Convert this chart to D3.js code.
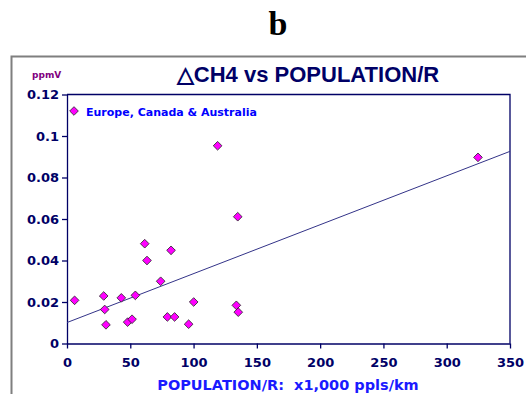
<!DOCTYPE html>
<html><head><meta charset="utf-8">
<script src="https://cdn.jsdelivr.net/npm/d3@7"></script>
<style>body{margin:0;background:#fff}svg{display:block}</style>
</head><body>
<svg id="c" width="526" height="394"></svg>
<script>
// Data (POPULATION/R in x1,000 ppl/km, ΔCH4 in ppmV)
const popR = [6, 29, 29.8, 30.8, 42.9, 47.9, 51.4, 54, 61.4, 63.2, 74, 79.3, 82.2, 85, 96.1, 100.1, 119, 133.8, 135.3, 134.9, 324.7];
const dCH4 = [0.0208, 0.0229, 0.0164, 0.0090, 0.0220, 0.0103, 0.0117, 0.0232, 0.0481, 0.0400, 0.0300, 0.0128, 0.0449, 0.0128, 0.0093, 0.0200, 0.0953, 0.0184, 0.0151, 0.0611, 0.0897];
const trendX = [0, 350];
const trendY = [0.0101, 0.0926];
const xTicks = [0, 50, 100, 150, 200, 250, 300, 350];
const yTicks = [0, 0.02, 0.04, 0.06, 0.08, 0.1, 0.12];
const yTickLabels = ["0", "0.02", "0.04", "0.06", "0.08", "0.1", "0.12"];
const seriesName = "Europe, Canada & Australia";

const svg = d3.select("#c");
const navy = "#000066";
const x = d3.scaleLinear().domain([0, 350]).range([67, 510]);
const y = d3.scaleLinear().domain([0, 0.12]).range([343.5, 94.5]);

// outer frame
svg.append("path").attr("d", "M11.5,394 L11.5,56.5 L526,56.5")
  .attr("fill", "none").attr("stroke", "#7f7f7f").attr("stroke-width", 2);

// "b"
svg.append("text").attr("x", 278).attr("y", 35).attr("text-anchor", "middle")
  .attr("font-family", "Liberation Serif, Times New Roman, serif").attr("font-weight", "bold")
  .attr("font-size", 34).attr("fill", "#000").text("b");

// title
svg.append("text").attr("x", 308).attr("y", 81.5).attr("text-anchor", "middle")
  .attr("font-family", "Liberation Sans, Arial, sans-serif").attr("font-weight", "bold")
  .attr("font-size", 22).attr("fill", navy).text("\u25B3CH4 vs POPULATION/R");

// ppmV
svg.append("text").attr("x", 32).attr("y", 77.5)
  .attr("font-family", "DejaVu Sans, sans-serif").attr("font-weight", "bold")
  .attr("font-size", 9).attr("fill", "#800080").text("ppmV");

// plot box (top and right)
svg.append("path").attr("d", `M${x(0)},${y(0.12)} L${x(350)},${y(0.12)} L${x(350)},${y(0)}`)
  .attr("fill", "none").attr("stroke", navy).attr("stroke-width", 1.3);

// axes
const xAxis = d3.axisBottom(x).tickValues(xTicks).tickSize(5).tickSizeOuter(0);
const yAxis = d3.axisLeft(y).tickValues(yTicks).tickSize(5).tickSizeOuter(0)
  .tickFormat((d, i) => yTickLabels[i]);

const gx = svg.append("g").attr("transform", `translate(0,${y(0)})`).call(xAxis);
const gy = svg.append("g").attr("transform", `translate(${x(0)},0)`).call(yAxis);
[gx, gy].forEach(g => {
  g.select(".domain").attr("stroke", navy).attr("stroke-width", 1.3);
  g.selectAll(".tick line").attr("stroke", navy).attr("stroke-width", 1.3);
  g.selectAll(".tick text").attr("fill", navy)
    .attr("font-family", "DejaVu Sans, sans-serif").attr("font-weight", "bold").attr("font-size", 13);
});
gx.selectAll(".tick text").attr("dy", "1.2em");
gy.selectAll(".tick text").attr("dx", "0");

// trend line
svg.append("line")
  .attr("x1", x(trendX[0])).attr("y1", y(trendY[0]))
  .attr("x2", x(trendX[1])).attr("y2", y(trendY[1]))
  .attr("stroke", "#333388").attr("stroke-width", 1);

// points
const diamond = d3.symbol().type(d3.symbolDiamond2).size(48);
svg.append("g").selectAll("path").data(popR).join("path")
  .attr("d", diamond)
  .attr("transform", (d, i) => `translate(${x(d)},${y(dCH4[i])})`)
  .attr("fill", "#ff00ff").attr("stroke", "#222").attr("stroke-width", 0.8);

// legend
svg.append("path").attr("d", diamond)
  .attr("transform", "translate(74,111)")
  .attr("fill", "#ff00ff").attr("stroke", "#222").attr("stroke-width", 0.8);
svg.append("text").attr("x", 86).attr("y", 116)
  .attr("font-family", "DejaVu Sans, sans-serif").attr("font-weight", "bold")
  .attr("font-size", 11).attr("fill", "#0000ff").text(seriesName);

// x axis title
svg.append("text").attr("x", 288).attr("y", 390).attr("text-anchor", "middle")
  .attr("font-family", "DejaVu Sans, sans-serif").attr("font-weight", "bold")
  .attr("font-size", 14.5).attr("fill", "#1a1aff").attr("xml:space", "preserve")
  .text("POPULATION/R:  x1,000 ppls/km");
</script>
</body></html>
